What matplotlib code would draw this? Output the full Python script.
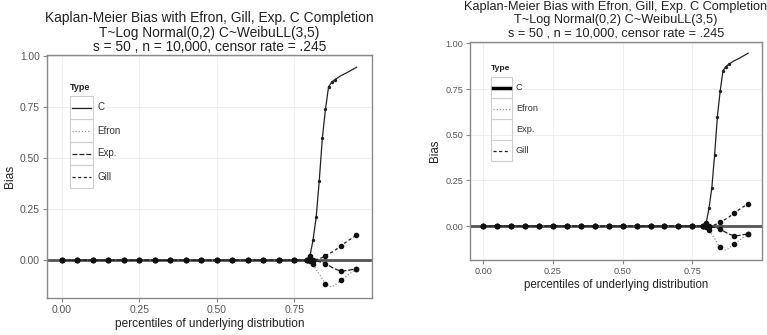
import matplotlib.pyplot as plt
from matplotlib.patches import Rectangle
from matplotlib.lines import Line2D

plt.rcParams['font.family'] = ['Liberation Sans', 'DejaVu Sans']

# percentiles of the underlying distribution (finer near the jump)
pct = [0.00, 0.05, 0.10, 0.15, 0.20, 0.25, 0.30, 0.35, 0.40, 0.45,
       0.50, 0.55, 0.60, 0.65, 0.70, 0.75, 0.78, 0.79, 0.80, 0.81,
       0.82, 0.83, 0.84, 0.85, 0.86, 0.87, 0.88, 0.90, 0.92, 0.95]

bias_c = [0, 0, 0, 0, 0, 0, 0, 0, 0, 0,
          0, 0, 0, 0, 0, 0, 0, 0, 0.02, 0.10,
          0.21, 0.39, 0.60, 0.74, 0.85, 0.873, 0.885, 0.905, 0.92, 0.946]
bias_efron = [0, 0, 0, 0, 0, 0, 0, 0, 0, 0,
              0, 0, 0, 0, 0, 0, 0, 0, -0.003, -0.02,
              -0.045, -0.068, -0.092, -0.116, -0.127, -0.13, -0.122, -0.098, -0.075, -0.042]
bias_exp = [0, 0, 0, 0, 0, 0, 0, 0, 0, 0,
            0, 0, 0, 0, 0, 0, 0, 0, 0, -0.002,
            -0.004, -0.007, -0.011, -0.016, -0.025, -0.034, -0.042, -0.054, -0.05, -0.042]
bias_gill = [0, 0, 0, 0, 0, 0, 0, 0, 0, 0,
             0, 0, 0, 0, 0, 0, 0, 0, 0, 0.002,
             0.004, 0.008, 0.013, 0.023, 0.031, 0.039, 0.048, 0.072, 0.093, 0.123]

types = ["C", "Efron", "Exp.", "Gill"]
x_ticks = [0.00, 0.25, 0.50, 0.75]
y_ticks = [0.00, 0.25, 0.50, 0.75, 1.00]

title_lines = ["Kaplan-Meier Bias with Efron, Gill, Exp. C Completion",
               "T~Log Normal(0,2) C~WeibuLL(3,5)",
               "s = 50 , n = 10,000, censor rate = .245"]

W, H = 767, 335
fig = plt.figure(figsize=(W / 100, H / 100), dpi=100)


def fx(px):
    return px / W


def fy(py):
    return (H - py) / H


styles = {
    "C": dict(color="#222222", ls="-", lw=0.9),
    "Efron": dict(color="#999999", ls=(0, (1, 1.5)), lw=0.9),
    "Exp.": dict(color="#222222", ls=(0, (4, 1.5)), lw=0.9),
    "Gill": dict(color="#222222", ls=(0, (2.5, 2)), lw=0.9),
}
series = {"C": bias_c, "Efron": bias_efron, "Exp.": bias_exp, "Gill": bias_gill}

# big markers on the 0.05 grid (plus the cluster near the jump)
coarse = [i for i, p in enumerate(pct) if round(p * 100) % 5 == 0 or 0.79 <= p <= 0.81]


def draw_panel(box, title_y, title_size, tick_size, label_size, legend):
    left, top, right, bottom = box
    ax = fig.add_axes([fx(left), fy(bottom), fx(right) - fx(left), fy(top) - fy(bottom)])
    ax.set_xlim(-0.0476, 1.0)
    ax.set_ylim(-0.185, 1.006)
    ax.set_xticks(x_ticks)
    ax.set_xticklabels([f"{t:.2f}" for t in x_ticks])
    ax.set_yticks(y_ticks)
    ax.set_yticklabels([f"{t:.2f}" for t in y_ticks])
    ax.tick_params(colors="#888888", labelcolor="#555555", labelsize=tick_size,
                   length=3, width=0.8, pad=2)
    ax.grid(True, color="#ebebeb", lw=0.6)
    ax.set_axisbelow(True)
    for sp in ax.spines.values():
        sp.set_color("#8a8a8a")
        sp.set_linewidth(1.0)

    ax.axhline(0, color="#555555", lw=2.0, zorder=2)
    for name in types:
        ax.plot(pct, series[name], **styles[name], zorder=3)
        idx = [i for i in coarse if name != "C" or series[name][i] < 0.05]
        ax.plot([pct[i] for i in idx], [series[name][i] for i in idx],
                "o", color="#111111", ms=3.0, zorder=4)
    # small points along the steep part of C
    ax.plot(pct[19:27], bias_c[19:27], "o", color="#222222", ms=1.4, zorder=4)

    ax.set_xlabel("percentiles of underlying distribution", fontsize=label_size,
                  color="#222222", labelpad=2)
    ax.set_ylabel("Bias", fontsize=label_size, color="#222222", labelpad=3)

    cx = (left + right) / 2
    for line, ty in zip(title_lines, title_y):
        fig.text(fx(cx), fy(ty), line, ha="center", va="center",
                 fontsize=title_size, color="#222222")

    # ggplot-like legend with boxed keys
    lx, ltop, kw, kh, tsize, thick_c, hide_exp = legend
    fig.text(fx(lx), fy(ltop - 9), "Type", fontsize=tsize - 0.5, fontweight="bold",
             ha="left", va="center", color="#222222")
    for k, name in enumerate(types):
        y0 = ltop + k * kh
        fig.patches.append(Rectangle((fx(lx), fy(y0 + kh)), fx(kw), kh / H,
                                     transform=fig.transFigure, fill=False,
                                     edgecolor="#cfcfcf", lw=0.8))
        st = dict(styles[name])
        if name == "C" and thick_c:
            st["lw"] = 2.5
            st["color"] = "#000000"
        if name == "Exp." and hide_exp:
            st["color"] = "white"
        fig.lines.append(Line2D([fx(lx + 2), fx(lx + kw - 2)],
                                [fy(y0 + kh / 2)] * 2, transform=fig.transFigure,
                                **st))
        fig.text(fx(lx + kw + 4), fy(y0 + kh / 2), name, fontsize=tsize,
                 ha="left", va="center", color="#333333")
    return ax


draw_panel((47, 55, 372, 298), (18, 33, 47), 9.9, 7.4, 8.6,
           (70, 96, 23, 23, 7.0, False, False))
draw_panel((470, 42.3, 762, 260), (7, 20.5, 34), 9.2, 6.6, 8.3,
           (491, 77, 21, 21, 6.6, True, True))

fig.savefig("out.png", dpi=100, facecolor="white")
